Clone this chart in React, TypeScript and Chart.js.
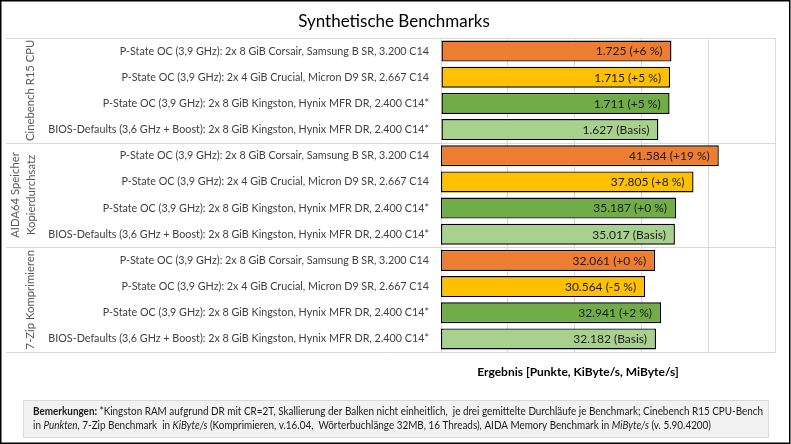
import React, { useEffect, useRef } from 'react';
import { Chart, registerables } from 'chart.js';

Chart.register(...registerables);

// ---- data ----
const title = 'Synthetische Benchmarks';
const axisTitle = 'Ergebnis [Punkte, KiByte/s, MiByte/s]';
const rowLabels = [
  'P-State OC (3,9 GHz): 2x 8 GiB Corsair, Samsung B SR, 3.200 C14',
  'P-State OC (3,9 GHz): 2x 4 GiB Crucial, Micron D9 SR, 2.667 C14',
  'P-State OC (3,9 GHz): 2x 8 GiB Kingston, Hynix MFR DR, 2.400 C14*',
  'BIOS-Defaults (3,6 GHz + Boost): 2x 8 GiB Kingston, Hynix MFR DR, 2.400 C14*',
];
const groupLabels: string[][] = [
  ['Cinebench R15 CPU'],
  ['AIDA64 Speicher', 'Kopierdurchsatz'],
  ['7-Zip Komprimieren'],
];
const cinebenchValues = [1725, 1715, 1711, 1627];
const aidaValues = [41584, 37805, 35187, 35017];
const zipValues = [32061, 30564, 32941, 32182];
const cinebenchDelta = ['+6 %', '+5 %', '+5 %', 'Basis'];
const aidaDelta = ['+19 %', '+8 %', '+0 %', 'Basis'];
const zipDelta = ['+0 %', '-5 %', '+2 %', 'Basis'];
const cinebenchAxisMax = 2500;
const cinebenchAxisStep = 500;
const memoryAxisMax = 50000;
const rowColors = ['#ED7D31', '#FFC000', '#70AD47', '#A9D18E'];

const noteLine1 = [
  { t: 'Bemerkungen: ', s: 'bold' },
  { t: '*Kingston RAM aufgrund DR mit CR=2T, Skallierung der Balken nicht einheitlich,  je drei gemittelte Durchläufe je Benchmark; Cinebench R15 CPU-Bench', s: '' },
];
const noteLine2 = [
  { t: 'in ', s: '' },
  { t: 'Punkten', s: 'italic' },
  { t: ', 7-Zip Benchmark  in ', s: '' },
  { t: 'KiByte/s', s: 'italic' },
  { t: ' (Komprimieren, v.16.04,  Wörterbuchlänge 32MB, 16 Threads), AIDA Memory Benchmark in ', s: '' },
  { t: 'MiByte/s', s: 'italic' },
  { t: ' (v. 5.90.4200)', s: '' },
];

const FONT = 'Lato';

function fmt(v: number): string {
  const s = String(Math.round(v));
  return s.replace(/\B(?=(\d{3})+(?!\d))/g, '.');
}

const allLabels = [...rowLabels, ...rowLabels, ...rowLabels];
const empty4 = [null, null, null, null];
const cineData = [...cinebenchValues, ...empty4, ...empty4];
const aidaData = [...empty4, ...aidaValues, ...empty4];
const zipData = [...empty4, ...empty4, ...zipValues];
const deltas = [cinebenchDelta, aidaDelta, zipDelta];
const colors = [...rowColors, ...rowColors, ...rowColors];

const decorPlugin = {
  id: 'decor',
  beforeDraw(chart: any) {
    const ctx = chart.ctx;
    ctx.save();
    ctx.fillStyle = '#ffffff';
    ctx.fillRect(0, 0, chart.width, chart.height);
    ctx.restore();
  },
  afterDraw(chart: any) {
    const ctx = chart.ctx;
    const area = chart.chartArea;
    const y = chart.scales.y;
    ctx.save();
    // group separators
    ctx.strokeStyle = '#d9d9d9';
    ctx.lineWidth = 1;
    const bounds = [area.top, (y.getPixelForValue(3) + y.getPixelForValue(4)) / 2, (y.getPixelForValue(7) + y.getPixelForValue(8)) / 2, area.bottom];
    bounds.forEach((b) => {
      const yy = Math.round(b) + 0.5;
      ctx.beginPath();
      ctx.moveTo(6, yy);
      ctx.lineTo(area.right + 0.5, yy);
      ctx.stroke();
    });
    // group labels
    ctx.fillStyle = '#595959';
    ctx.font = `11.3px ${FONT}`;
    ctx.textAlign = 'center';
    ctx.textBaseline = 'middle';
    groupLabels.forEach((lines, gi) => {
      const cy = (bounds[gi] + bounds[gi + 1]) / 2;
      const lh = 16;
      const cx = lines.length === 1 ? 30 : 23;
      ctx.save();
      ctx.translate(cx, cy);
      ctx.rotate(-Math.PI / 2);
      lines.forEach((ln, li) => {
        const off = (li - (lines.length - 1) / 2) * lh;
        ctx.fillText(ln, 0, off);
      });
      ctx.restore();
    });
    // title
    ctx.fillStyle = '#000000';
    ctx.font = `17px ${FONT}`;
    ctx.fillText(title, 394, 22);
    // axis title
    ctx.font = `bold 12px ${FONT}`;
    ctx.fillText(axisTitle, 578, 372);
    // footer box
    ctx.fillStyle = '#f2f2f2';
    ctx.fillRect(23, 400, 745, 37);
    ctx.strokeStyle = '#d9d9d9';
    ctx.strokeRect(23.5, 400.5, 745, 37);
    // footer text
    const size = 10.5;
    const fontFor = (s: string) => `${s} ${size}px ${FONT}`.trim();
    const measure = (segs: any[]) => segs.reduce((w, sg) => { ctx.font = fontFor(sg.s); return w + ctx.measureText(sg.t).width; }, 0);
    const w1 = measure(noteLine1);
    const sc = Math.min(1.2, 730 / w1);
    const drawLine = (segs: any[], yy: number) => {
      ctx.save();
      ctx.translate(33, yy);
      ctx.scale(sc, 1);
      let x = 0;
      ctx.textAlign = 'left';
      ctx.textBaseline = 'middle';
      ctx.fillStyle = '#1a1a1a';
      segs.forEach((sg) => {
        ctx.font = fontFor(sg.s);
        ctx.fillText(sg.t, x, 0);
        x += ctx.measureText(sg.t).width;
      });
      ctx.restore();
    };
    drawLine(noteLine1, 412);
    drawLine(noteLine2, 426);
    // outer border
    ctx.strokeStyle = '#000000';
    ctx.lineWidth = 1.5;
    ctx.strokeRect(0.75, 0.75, chart.width - 2, chart.height - 1.5);
    ctx.restore();
  },
  afterDatasetsDraw(chart: any) {
    const ctx = chart.ctx;
    ctx.save();
    ctx.font = `12px ${FONT}`;
    ctx.fillStyle = '#1a1a1a';
    ctx.textAlign = 'right';
    ctx.textBaseline = 'middle';
    chart.data.datasets.forEach((ds: any, di: number) => {
      const meta = chart.getDatasetMeta(di);
      meta.data.forEach((el: any, i: number) => {
        const v = ds.data[i];
        if (v === null || v === undefined) return;
        const txt = `${fmt(v)} (${deltas[di][i % 4]})`;
        ctx.fillText(txt, el.x - 9, el.y + 0.5);
      });
    });
    ctx.restore();
  },
};

export default function App() {
  const ref = useRef<HTMLCanvasElement>(null);
  useEffect(() => {
    document.body.style.margin = '0';
    const common = {
      backgroundColor: colors,
      borderColor: '#000000',
      borderWidth: 1.4,
      borderSkipped: false,
      barPercentage: 0.8,
      categoryPercentage: 1,
      skipNull: true,
    };
    const chart = new Chart(ref.current as HTMLCanvasElement, {
      type: 'bar',
      data: {
        labels: allLabels,
        datasets: [
          { label: 'Cinebench', data: cineData, xAxisID: 'x', ...common },
          { label: 'AIDA64', data: aidaData, xAxisID: 'x2', ...common },
          { label: '7-Zip', data: zipData, xAxisID: 'x2', ...common },
        ] as any,
      },
      options: {
        indexAxis: 'y',
        animation: false,
        responsive: false,
        devicePixelRatio: 1,
        layout: { padding: { top: 38, bottom: 92, right: 16, left: 0 } },
        plugins: { legend: { display: false }, tooltip: { enabled: false }, title: { display: false } },
        scales: {
          x: {
            type: 'linear',
            min: 0,
            max: cinebenchAxisMax,
            ticks: { display: false, stepSize: cinebenchAxisStep },
            grid: { color: '#d9d9d9', drawTicks: false, lineWidth: 1 },
            border: { display: false },
            afterFit: (s: any) => { s.height = 0; },
          },
          x2: {
            type: 'linear',
            min: 0,
            max: memoryAxisMax,
            display: false,
          },
          y: {
            type: 'category',
            grid: { display: false, drawTicks: false },
            border: { display: false },
            ticks: { color: '#404040', font: { family: FONT, size: 10.75 }, padding: 12, autoSkip: false },
            afterFit: (s: any) => { s.width = 441; },
          },
        },
      } as any,
      plugins: [decorPlugin],
    });
    return () => chart.destroy();
  }, []);
  return (
    <div style={{ position: 'fixed', left: 0, top: 0, width: 791, height: 444 }}>
      <canvas ref={ref} width={791} height={444} style={{ display: 'block' }} />
    </div>
  );
}
